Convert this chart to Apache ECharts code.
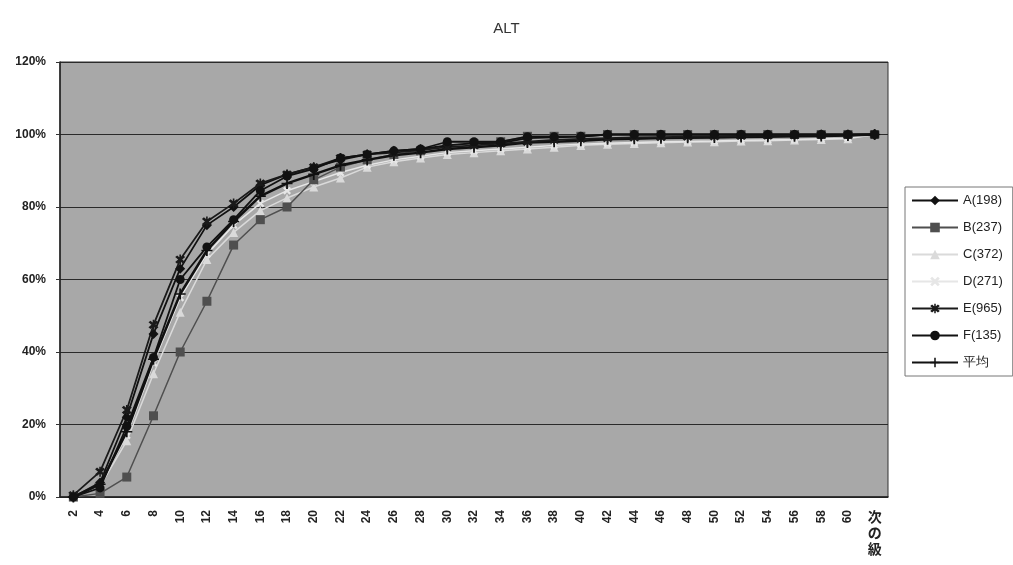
<!DOCTYPE html>
<html>
<head>
<meta charset="utf-8">
<script src="https://cdn.jsdelivr.net/npm/echarts@6/dist/echarts.min.js"></script>
<style>
html,body{margin:0;padding:0;background:#fff;}
#chart{width:1013px;height:565px;}
</style>
</head>
<body>
<div id="chart"></div>
<script>
var categories = ['2','4','6','8','10','12','14','16','18','20','22','24','26','28','30','32','34','36','38','40','42','44','46','48','50','52','54','56','58','60','次の級'];
var yTicks = [0, 20, 40, 60, 80, 100, 120];
var seriesNames = ['A(198)','B(237)','C(372)','D(271)','E(965)','F(135)','平均'];

var dataA = [0, 4, 22, 45, 63, 75, 80, 86, 89, 91, 93, 94.5, 95.5, 96, 97, 97.6, 97.6, 99, 99.2, 99.4, 100, 100, 100, 100, 100, 100, 100, 100, 100, 100, 100];
var dataB = [0, 1, 5.5, 22.4, 40, 54, 69.5, 76.5, 80, 87.5, 91, 93, 94.5, 95.5, 97, 97.5, 98, 99.5, 99.5, 99.5, 100, 100, 100, 100, 100, 100, 100, 100, 100, 100, 100];
var dataC = [0, 3, 15.5, 34, 51, 65.5, 73, 79, 82.5, 85.5, 88, 91, 92.5, 93.5, 94.5, 95, 95.5, 96, 96.5, 97, 97.3, 97.5, 97.7, 97.9, 98, 98.2, 98.3, 98.5, 98.6, 98.8, 100];
var dataD = [0, 3.5, 17, 37, 55, 67, 75, 81, 84.5, 87, 89.5, 91.5, 93, 94, 95, 95.5, 96, 96.5, 97, 97.3, 97.6, 97.8, 98, 98.1, 98.2, 98.4, 98.5, 98.6, 98.8, 99, 100];
var dataE = [0.5, 7, 24, 47.5, 65.5, 76, 81, 86.5, 89, 91, 93.5, 94.5, 95, 95.7, 96.5, 97, 97.5, 98, 98.5, 98.8, 99, 99.2, 99.3, 99.4, 99.5, 99.6, 99.7, 99.8, 99.9, 99.9, 100];
var dataF = [0, 2.5, 19.5, 38.5, 60, 69, 76.5, 84.5, 88.5, 90.5, 93.5, 94.5, 95.5, 96, 98, 98, 98, 99.4, 99.4, 99.5, 100, 100, 100, 100, 100, 100, 100, 100, 100, 100, 100];
var dataAvg = [0, 3.5, 18, 38, 56, 68, 76, 83, 86.5, 89, 91.5, 93, 94.3, 95, 96, 96.5, 97, 97.8, 98, 98.3, 98.7, 98.8, 99, 99.1, 99.2, 99.3, 99.4, 99.5, 99.6, 99.7, 100];

var xMark = 'path://M0,2 L2,0 L5,3 L8,0 L10,2 L7,5 L10,8 L8,10 L5,7 L2,10 L0,8 L3,5 Z';
var starMark = 'path://M0,2 L2,0 L5,3 L8,0 L10,2 L7,5 L10,8 L8,10 L5,7 L2,10 L0,8 L3,5 Z M4.2,-1 L5.8,-1 L5.8,11 L4.2,11 Z';
var plusMark = 'path://M0,4.3 L10,4.3 L10,5.7 L0,5.7 Z M4.2,0 L5.8,0 L5.8,10 L4.2,10 Z';

function mk(name, data, color, symbol, size, width, z) {
  return {
    name: name, type: 'line', data: data, xAxisIndex: 0,
    symbol: symbol, symbolSize: size, z: z,
    lineStyle: {color: color, width: width},
    itemStyle: {color: color},
    emphasis: {disabled: true}
  };
}

var chart = echarts.init(document.getElementById('chart'), null, {renderer: 'canvas'});
chart.setOption({
  animation: false,
  backgroundColor: '#ffffff',
  title: {
    text: 'ALT', left: 'center', top: 16,
    textStyle: {fontFamily: 'Liberation Sans, Arial, sans-serif', fontSize: 15, fontWeight: 'normal', color: '#333'}
  },
  grid: {
    left: 60, right: 125, top: 62, bottom: 68,
    show: true, backgroundColor: '#a8a8a8', borderColor: '#333', borderWidth: 1
  },
  legend: {
    orient: 'vertical', left: 905, top: 187,
    backgroundColor: '#ffffff', borderColor: '#777', borderWidth: 1,
    padding: [7, 10, 7, 6],
    itemWidth: 46, itemHeight: 12, itemGap: 14,
    textStyle: {fontFamily: 'Liberation Sans, Arial, sans-serif', fontSize: 13, color: '#222'},
    data: seriesNames
  },
  xAxis: [{
    type: 'category', data: categories, boundaryGap: true,
    axisLine: {lineStyle: {color: '#222', width: 1.5}},
    axisTick: {inside: true, length: 4, lineStyle: {color: '#333'}, alignWithLabel: false},
    axisLabel: {
      interval: 0, rotate: 90, margin: 13,
      fontFamily: 'Liberation Sans, Arial, sans-serif', fontSize: 12, fontWeight: 'bold', color: '#222',
      formatter: function (v) { return v === '次の級' ? '' : v; }
    },
    splitLine: {show: false}
  }, {
    type: 'category', data: categories, boundaryGap: true, position: 'bottom',
    axisLine: {show: false}, axisTick: {show: false}, splitLine: {show: false},
    axisLabel: {
      interval: 0, rotate: 0, margin: 12, lineHeight: 16,
      verticalAlign: 'top',
      fontFamily: 'Noto Sans CJK JP, sans-serif', fontSize: 14, fontWeight: 'bold', color: '#222',
      formatter: function (v) { return v === '次の級' ? v.split('').join('\n') : ''; }
    }
  }],
  yAxis: {
    type: 'value', min: 0, max: 120, interval: 20,
    axisLine: {show: true, lineStyle: {color: '#222', width: 1.5}},
    axisTick: {show: true, length: 4, lineStyle: {color: '#333'}},
    axisLabel: {
      margin: 14, fontFamily: 'Liberation Sans, Arial, sans-serif', fontSize: 12, fontWeight: 'bold', color: '#222',
      formatter: function (v) { return yTicks.indexOf(v) >= 0 ? v + '%' : ''; }
    },
    splitLine: {show: true, lineStyle: {color: '#2a2a2a', width: 1.2}}
  },
  series: [
    mk(seriesNames[2], dataC, '#dadada', 'triangle', 9, 1.5, 2),
    mk(seriesNames[3], dataD, '#e6e6e6', xMark, 8, 1.5, 2),
    mk(seriesNames[1], dataB, '#4f4f4f', 'rect', 9, 1.5, 3),
    mk(seriesNames[6], dataAvg, '#111111', plusMark, 11, 2.5, 4),
    mk(seriesNames[0], dataA, '#111111', 'diamond', 10, 1.8, 5),
    mk(seriesNames[4], dataE, '#1a1a1a', starMark, 10, 1.8, 5),
    mk(seriesNames[5], dataF, '#111111', 'circle', 9, 1.8, 5)
  ]
});
</script>
</body>
</html>
